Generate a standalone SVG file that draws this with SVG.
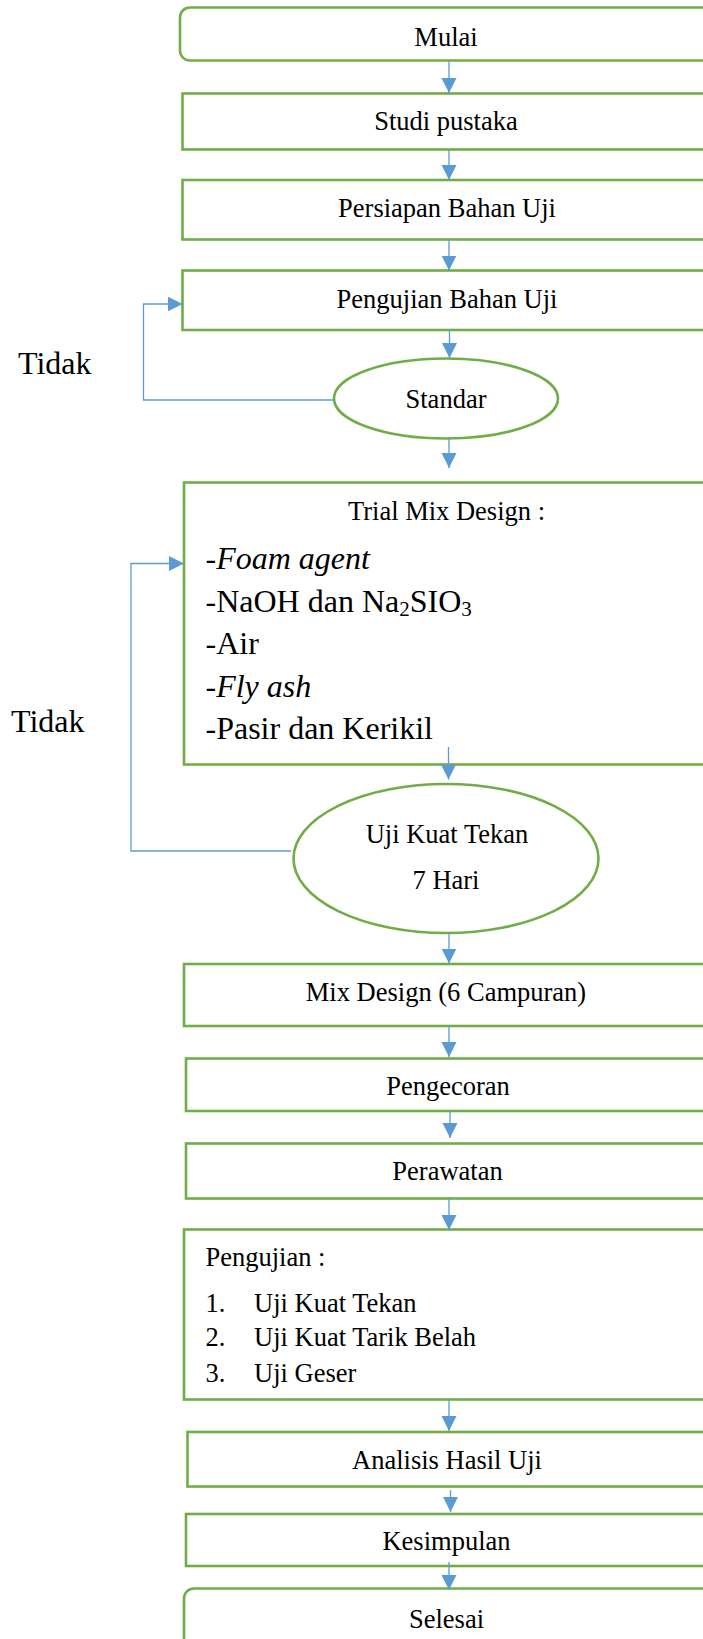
<svg xmlns="http://www.w3.org/2000/svg" width="703" height="1639" viewBox="0 0 703 1639">
<defs>
<style>
.b{fill:#fff;stroke:#70AD47;stroke-width:2.6}
.t{font-family:"Liberation Serif","Times New Roman",serif;font-size:26.5px;fill:#000}
.c{text-anchor:middle}
.l{font-size:32px}
.i{font-style:italic}
.k{fill:none;stroke:#5B9BD5;stroke-width:1.3}
</style>
<marker id="ah" markerUnits="userSpaceOnUse" markerWidth="16" markerHeight="16" viewBox="0 0 16 16" refX="15" refY="8" orient="auto">
<path d="M0,0.5 L15,8 L0,15.5 Z" fill="#5B9BD5"/>
</marker>
</defs>
<rect width="703" height="1639" fill="#fff"/>

<g id="n-mulai"><rect class="b" x="180" y="7.5" width="540" height="53" rx="10"/><text class="t c" x="446" y="46">Mulai</text></g>
<g id="n-studi"><rect class="b" x="182.5" y="93.5" width="540" height="56"/><text class="t c" x="446" y="129.5">Studi pustaka</text></g>
<g id="n-persiapan"><rect class="b" x="182.5" y="180" width="540" height="59.5"/><text class="t c" x="447" y="217">Persiapan Bahan Uji</text></g>
<g id="n-pengujian-bahan"><rect class="b" x="182.5" y="270.5" width="540" height="59.5"/><text class="t c" x="447" y="307.5">Pengujian Bahan Uji</text></g>
<g id="n-standar"><ellipse class="b" cx="446" cy="398.5" rx="112" ry="40"/><text class="t c" x="446" y="407.5">Standar</text></g>
<g id="n-trial"><rect class="b" x="184" y="482.5" width="540" height="282"/>
<text class="t c" x="446.5" y="519.5">Trial Mix Design :</text>
<text class="t l" x="205.5" y="568.5">-<tspan class="i">Foam agent</tspan></text>
<text class="t l" x="205.5" y="611.5">-NaOH dan Na<tspan font-size="21" dy="4">2</tspan><tspan dy="-4">SIO</tspan><tspan font-size="21" dy="4">3</tspan></text>
<text class="t l" x="205.5" y="653.5">-Air</text>
<text class="t l i" x="205.5" y="696.5">-Fly ash</text>
<text class="t l" x="205.5" y="738.5">-Pasir dan Kerikil</text>
</g>
<g id="n-ujikuat"><ellipse class="b" cx="446" cy="858.5" rx="152.5" ry="74.5"/><text class="t c" x="447" y="843">Uji Kuat Tekan</text><text class="t c" x="446" y="888.5">7 Hari</text></g>
<g id="n-mix"><rect class="b" x="184" y="964" width="540" height="62"/><text class="t c" x="446" y="1001">Mix Design (6 Campuran)</text></g>
<g id="n-pengecoran"><rect class="b" x="186" y="1058.5" width="540" height="52.5"/><text class="t c" x="448" y="1095">Pengecoran</text></g>
<g id="n-perawatan"><rect class="b" x="186" y="1143.5" width="540" height="55"/><text class="t c" x="447.5" y="1180">Perawatan</text></g>
<g id="n-pengujian"><rect class="b" x="184" y="1229.5" width="540" height="170"/>
<text class="t" x="205.5" y="1266">Pengujian :</text>
<text class="t" x="205.5" y="1311.5">1.</text><text class="t" x="254" y="1311.5">Uji Kuat Tekan</text>
<text class="t" x="205.5" y="1346">2.</text><text class="t" x="254" y="1346">Uji Kuat Tarik Belah</text>
<text class="t" x="205.5" y="1381.5">3.</text><text class="t" x="254" y="1381.5">Uji Geser</text>
</g>
<g id="n-analisis"><rect class="b" x="187.5" y="1432" width="540" height="54.5"/><text class="t c" x="447" y="1468.5">Analisis Hasil Uji</text></g>
<g id="n-kesimpulan"><rect class="b" x="186" y="1514" width="540" height="52"/><text class="t c" x="446.5" y="1550">Kesimpulan</text></g>
<g id="n-selesai"><rect class="b" x="184" y="1588.5" width="540" height="70" rx="10"/><text class="t c" x="446.5" y="1627.5">Selesai</text></g>

<g id="labels">
<text class="t l" x="18" y="373.5">Tidak</text>
<text class="t l" x="11" y="731.5">Tidak</text>
</g>

<g id="connectors">
<line class="k" x1="449" y1="61" x2="449" y2="93" marker-end="url(#ah)"/>
<line class="k" x1="449" y1="149.5" x2="449" y2="180" marker-end="url(#ah)"/>
<line class="k" x1="449" y1="239.5" x2="449" y2="270.5" marker-end="url(#ah)"/>
<line class="k" x1="449.5" y1="330" x2="449.5" y2="358" marker-end="url(#ah)"/>
<line class="k" x1="449" y1="439" x2="449" y2="468" marker-end="url(#ah)"/>
<line class="k" x1="448.5" y1="747" x2="448.5" y2="779.5" marker-end="url(#ah)"/>
<line class="k" x1="449" y1="933" x2="449" y2="963.5" marker-end="url(#ah)"/>
<line class="k" x1="449" y1="1026" x2="449" y2="1057" marker-end="url(#ah)"/>
<line class="k" x1="450" y1="1111" x2="450" y2="1138" marker-end="url(#ah)"/>
<line class="k" x1="449" y1="1198.5" x2="449" y2="1230" marker-end="url(#ah)"/>
<line class="k" x1="449" y1="1399.5" x2="449" y2="1431" marker-end="url(#ah)"/>
<line class="k" x1="450.5" y1="1490" x2="450.5" y2="1512" marker-end="url(#ah)"/>
<line class="k" x1="449" y1="1562" x2="449" y2="1590" marker-end="url(#ah)"/>
<polyline class="k" points="334,400 143.5,400 143.5,304 182.5,304" marker-end="url(#ah)"/>
<polyline class="k" points="291,851 131,851 131,563.5 184,563.5" marker-end="url(#ah)"/>
</g>
</svg>
